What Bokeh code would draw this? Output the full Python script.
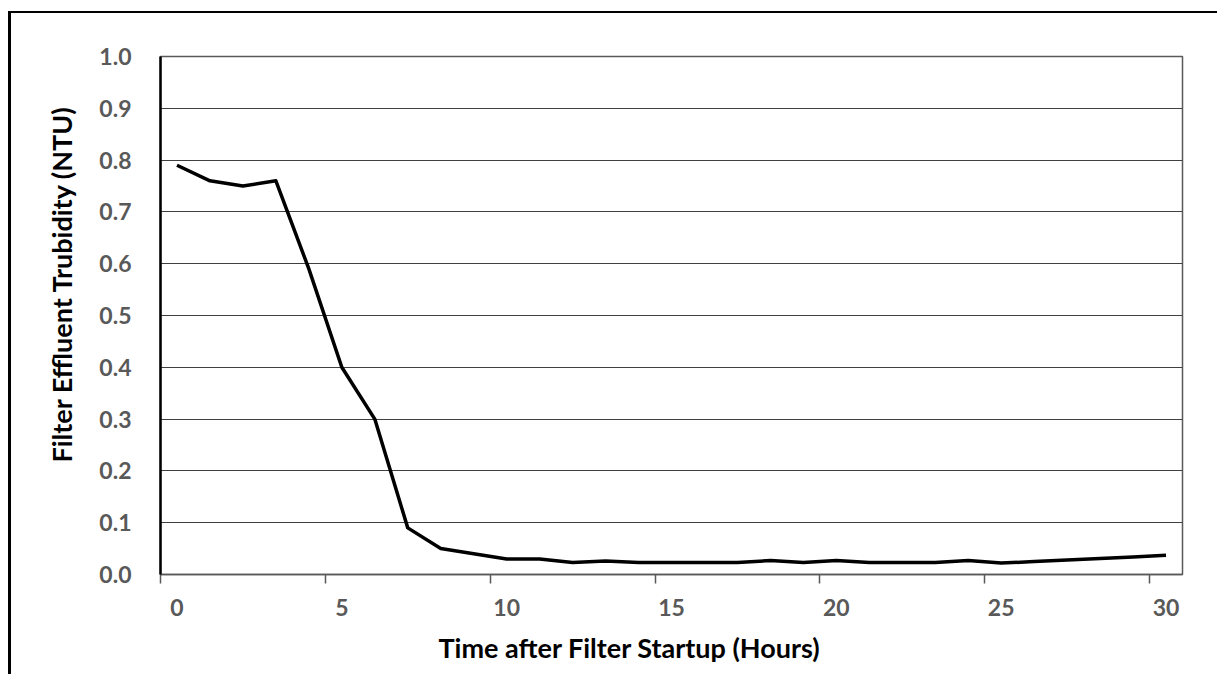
from bokeh.plotting import figure
from bokeh.models import LinearAxis, FixedTicker, Range1d, NumeralTickFormatter, Title
from bokeh.embed import file_html
from bokeh.resources import INLINE

# data: hours after startup and effluent turbidity (NTU)
hours = list(range(0, 31))
turbidity = [0.79, 0.76, 0.75, 0.76, 0.59, 0.40, 0.30, 0.09, 0.05, 0.04,
             0.03, 0.03, 0.023, 0.026, 0.023, 0.023, 0.023, 0.023, 0.027, 0.023,
             0.027, 0.023, 0.023, 0.023, 0.027, 0.022, 0.025, 0.028, 0.031, 0.034,
             0.037]
x_tick_labels = ["0", "5", "10", "15", "20", "25", "30"]
y_ticks = [0.0, 0.1, 0.2, 0.3, 0.4, 0.5, 0.6, 0.7, 0.8, 0.9, 1.0]
x_title = "Time after Filter Startup (Hours)"
y_title = "Filter Effluent Trubidity (NTU)"

FONT = "Lato"
GRAY = "#595959"

# category centre positions (Excel-style category axis)
xpos = [h + 0.5 for h in hours]

p = figure(width=1209, height=663, output_backend="svg", toolbar_location=None,
           x_range=Range1d(0, len(hours)), y_range=Range1d(0, 1.0),
           x_axis_location=None, y_axis_location=None)
p.styles = {"margin-left": "8px", "margin-top": "11px",
            "border-left": "3px solid black", "border-top": "2px solid black"}
p.min_border_left = 149
p.min_border_right = 38
p.min_border_top = 43
p.min_border_bottom = 102
p.outline_line_color = GRAY
p.outline_line_width = 1.5

p.line(xpos, turbidity, line_color="black", line_width=3.5, line_join="round")

# y axis
yax = LinearAxis(ticker=FixedTicker(ticks=y_ticks),
                 formatter=NumeralTickFormatter(format="0.0"))
yax.major_label_text_font = FONT
yax.major_label_text_font_style = "bold"
yax.major_label_text_font_size = "23px"
yax.major_label_text_color = GRAY
yax.major_label_standoff = 29
yax.major_tick_out = 0
yax.major_tick_in = 0
yax.minor_tick_out = 0
yax.minor_tick_in = 0
yax.axis_line_color = "black"
yax.axis_line_width = 2.5
p.add_layout(yax, "left")

# x axis: labels centred on categories, tick marks at category boundaries
tick_pos = [int(t) for t in x_tick_labels]
label_pos = [t + 0.5 for t in tick_pos]
xax = LinearAxis(ticker=FixedTicker(ticks=label_pos, minor_ticks=tick_pos))
xax.major_label_overrides = {lp: lab for lp, lab in zip(label_pos, x_tick_labels)}
xax.major_tick_out = 0
xax.major_tick_in = 0
xax.minor_tick_out = 9
xax.minor_tick_in = 0
xax.minor_tick_line_color = GRAY
xax.minor_tick_line_width = 1.5
xax.axis_line_color = GRAY
xax.axis_line_width = 1.5
xax.major_label_text_font = FONT
xax.major_label_text_font_style = "bold"
xax.major_label_text_font_size = "23px"
xax.major_label_text_color = GRAY
xax.major_label_standoff = 15
p.add_layout(xax, "below")

# axis titles (placed like the original, slightly off the frame centre)
xt = Title(text=x_title, align="left", offset=278, standoff=20,
           text_font=FONT, text_font_style="bold", text_font_size="27px",
           text_color="black")
p.add_layout(xt, "below")
yt = Title(text=y_title, align="left", offset=112, standoff=38,
           text_font=FONT, text_font_style="bold", text_font_size="27px",
           text_color="black")
p.add_layout(yt, "left")

p.xgrid.visible = False
p.ygrid.ticker = FixedTicker(ticks=y_ticks)
p.ygrid.grid_line_color = "#404040"
p.ygrid.grid_line_width = 1.2

open("out.html", "w").write(file_html(p, INLINE))
